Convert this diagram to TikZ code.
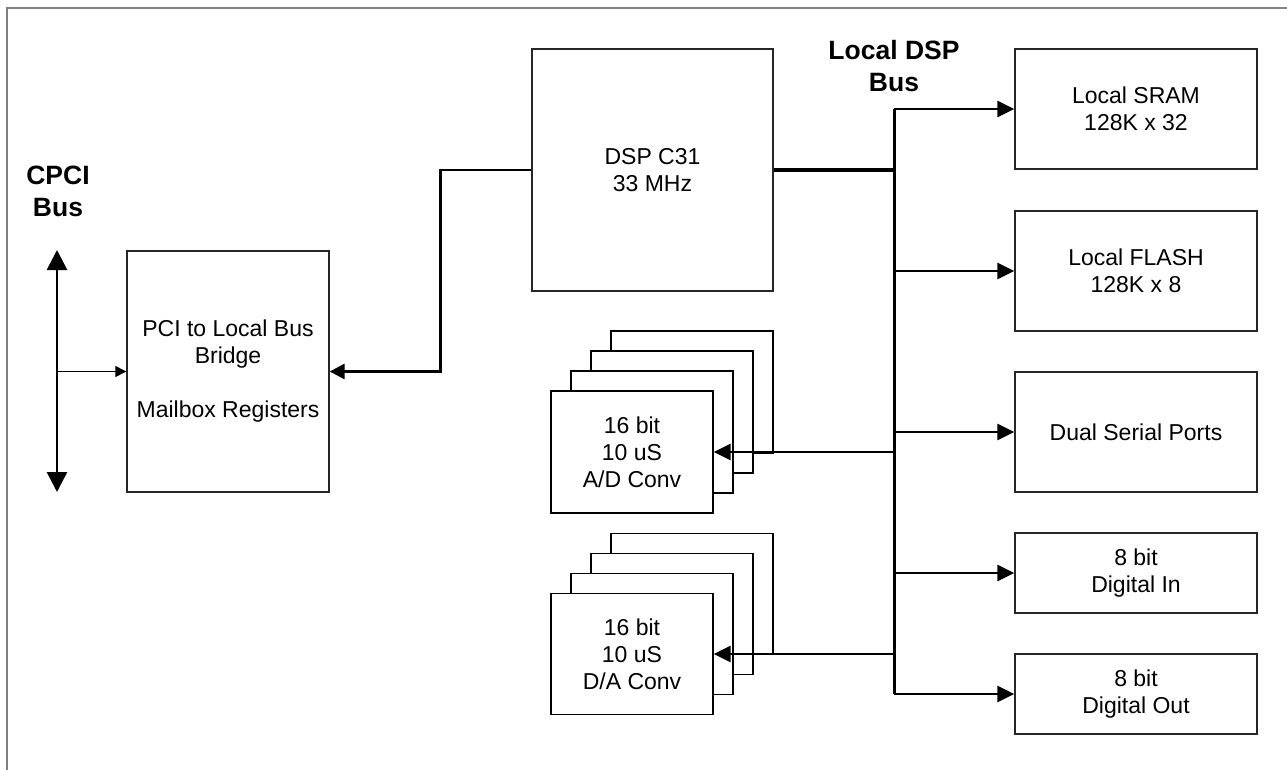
\documentclass[tikz,border=0pt]{standalone}
\usepackage{fontspec}
\setmainfont{Liberation Sans}
\usetikzlibrary{arrows.meta}
\begin{document}
\begin{tikzpicture}[x=1pt,y=-1pt,
  box/.style={draw=black!85, line width=1.3pt, fill=white, align=center, inner sep=0pt,
    font=\fontsize{23}{27}\selectfont},
  lbl/.style={align=center, inner sep=0pt, font=\fontsize{26.5}{32}\selectfont\bfseries},
  busline/.style={line width=3pt},
  busarr/.style={line width=2.7pt, -{Triangle[length=17pt,width=16pt]}},
  cpciarr/.style={line width=2.8pt, {Triangle[length=20pt,width=20pt]}-{Triangle[length=20pt,width=20pt]}},
  thinarr/.style={line width=1pt, -{Triangle[length=11pt,width=11pt]}},
  frame/.style={draw=black!50, line width=2pt}
]
\useasboundingbox (0,0) rectangle (1287,770);
\draw[frame] (7,772) -- (7,8) -- (1289,8);

% labels
\node[lbl] (cpcilbl) at (58,191) {CPCI\\Bus};
\node[lbl] (dsplbl) at (894,66) {Local DSP\\Bus};

% main boxes
\node[box, minimum width=202pt, minimum height=241pt] (bridge) at (228,371.5)
  {PCI to Local Bus\\Bridge\\[27pt]Mailbox Registers};
\node[box, minimum width=241pt, minimum height=242pt] (dsp) at (652.5,170) {DSP C31\\33 MHz};
\node[box, minimum width=242pt, minimum height=120pt] (sram) at (1136,109) {Local SRAM\\128K x 32};
\node[box, minimum width=242pt, minimum height=120pt] (flash) at (1136,271) {Local FLASH\\128K x 8};
\node[box, minimum width=242pt, minimum height=120pt] (serial) at (1136,432) {Dual Serial Ports};
\node[box, minimum width=242pt, minimum height=80pt] (din) at (1136,573) {8 bit\\Digital In};
\node[box, minimum width=242pt, minimum height=80pt] (dout) at (1136,694) {8 bit\\Digital Out};

% A/D stack
\node[box, draw=black, minimum width=162pt, minimum height=122pt] (adc4) at (692,392) {};
\node[box, draw=black, minimum width=162pt, minimum height=122pt] (adc3) at (672,412) {};
\node[box, draw=black, minimum width=162pt, minimum height=122pt] (adc2) at (652,432) {};
\node[box, draw=black, minimum width=162pt, minimum height=122pt] (adc) at (632,452) {16 bit\\10 uS\\A/D Conv};

% D/A stack
\node[box, draw=black, minimum width=162pt, minimum height=121pt] (dac4) at (692,594) {};
\node[box, draw=black, minimum width=162pt, minimum height=121pt] (dac3) at (672,614) {};
\node[box, draw=black, minimum width=162pt, minimum height=121pt] (dac2) at (652,634) {};
\node[box, draw=black, minimum width=162pt, minimum height=121pt] (dac) at (632,654) {16 bit\\10 uS\\D/A Conv};

% CPCI bus
\coordinate (cpciTop) at (57,250);
\coordinate (cpciBot) at (57,492);
\draw[cpciarr] (cpciTop) -- (cpciBot);
\draw[thinarr] (cpciTop |- bridge.west) -- (bridge.west);

% DSP to bridge
\draw[line width=2.7pt, -{Triangle[length=15pt,width=15pt]}]
  (dsp.west) -- ++(-91,0) |- (bridge.east);

% local DSP bus
\coordinate (busTop) at (894,109);
\coordinate (busBot) at (894,694);
\draw[busline] (busTop) -- (busBot);
\draw[line width=3.3pt] (dsp.east) -- (dsp.east -| busTop);
\draw[busarr] (busTop) -- (sram.west);
\draw[busarr] (flash.west -| busTop) -- (flash.west);
\draw[busarr] (serial.west -| busTop) -- (serial.west);
\draw[busarr] (din.west -| busTop) -- (din.west);
\draw[busarr] (busBot) -- (dout.west);
\draw[busarr] (adc.east -| busTop) -- (adc.east);
\draw[busarr] (dac.east -| busTop) -- (dac.east);
\end{tikzpicture}
\end{document}
